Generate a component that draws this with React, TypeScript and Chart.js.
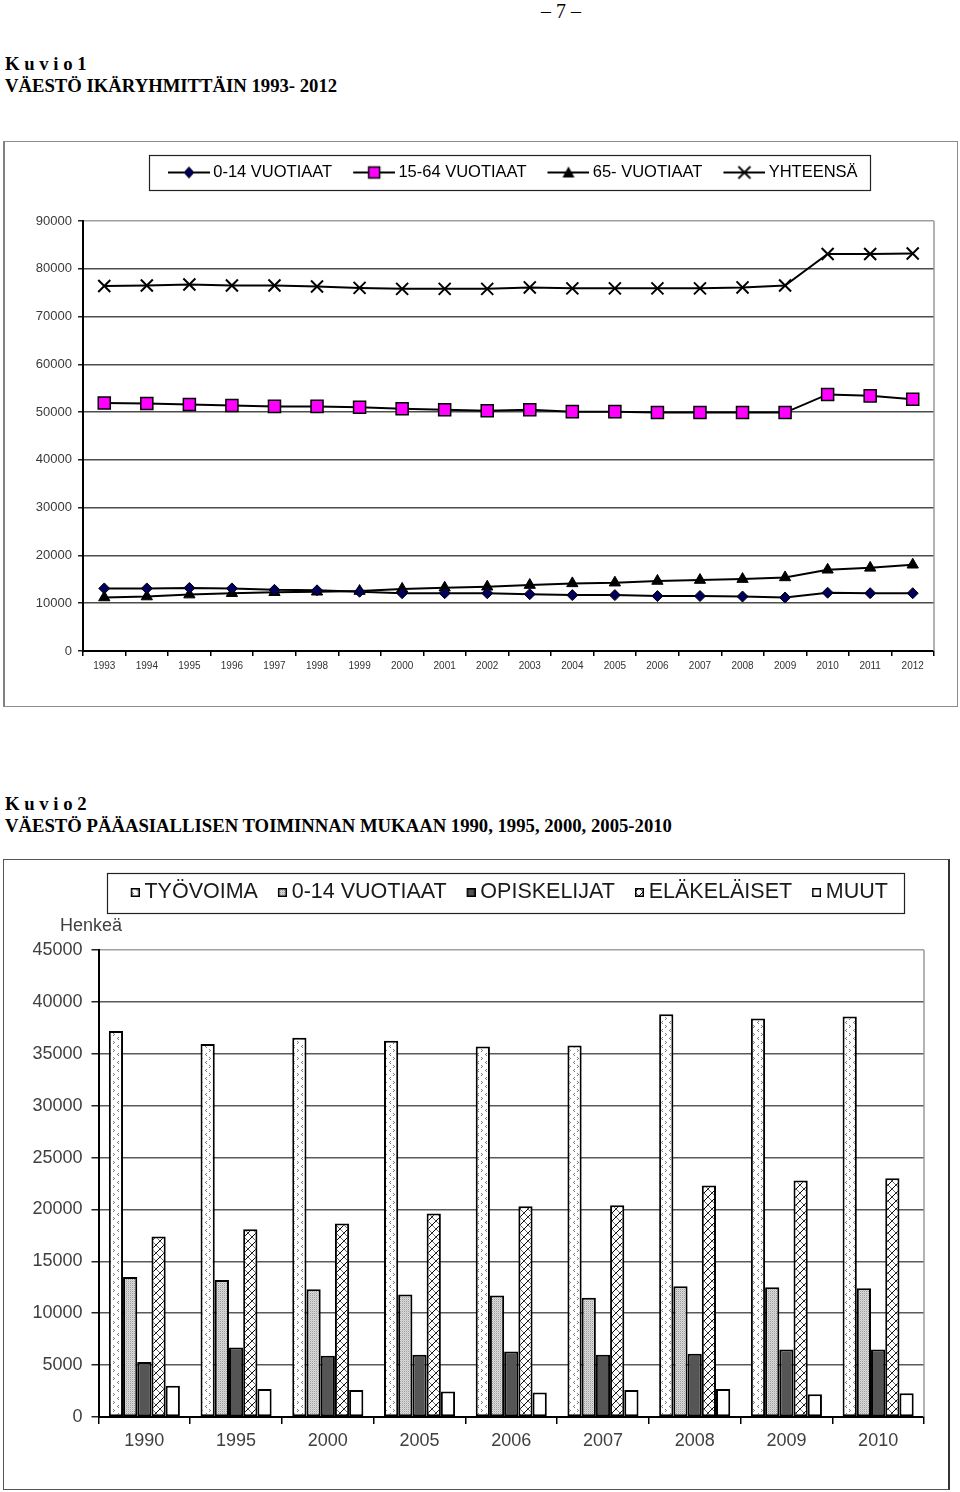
import React, { useEffect, useRef } from 'react';
import Chart from 'chart.js/auto';

const SANS = "'Liberation Sans', Arial, sans-serif";
const SERIF = "'Liberation Serif', 'Times New Roman', serif";

// ---------- Kuvio 1 data ----------
const years1 = ['1993', '1994', '1995', '1996', '1997', '1998', '1999', '2000', '2001', '2002', '2003', '2004', '2005', '2006', '2007', '2008', '2009', '2010', '2011', '2012'];
const age0to14 = [13100, 13100, 13200, 13100, 12800, 12700, 12400, 12100, 12100, 12100, 11900, 11700, 11700, 11500, 11500, 11400, 11200, 12200, 12100, 12100];
const age15to64 = [51900, 51800, 51600, 51400, 51200, 51200, 51000, 50700, 50500, 50300, 50500, 50100, 50100, 49900, 49900, 49900, 49900, 53700, 53400, 52700];
const age65plus = [11200, 11400, 11800, 12100, 12300, 12400, 12550, 13000, 13250, 13450, 13800, 14150, 14300, 14650, 14850, 15050, 15400, 17000, 17400, 18050];
const totalPop = [76400, 76500, 76700, 76500, 76500, 76300, 76000, 75800, 75800, 75800, 76100, 75900, 75900, 75900, 75900, 76100, 76500, 83100, 83100, 83200];
const yTicks1 = [0, 10000, 20000, 30000, 40000, 50000, 60000, 70000, 80000, 90000];
const series1 = ['0-14 VUOTIAAT', '15-64 VUOTIAAT', '65- VUOTIAAT', 'YHTEENSÄ'];

// ---------- Kuvio 2 data ----------
const years2 = ['1990', '1995', '2000', '2005', '2006', '2007', '2008', '2009', '2010'];
const workforce = [37200, 35950, 36550, 36250, 35700, 35800, 38800, 38400, 38600];
const children = [13500, 13200, 12300, 11800, 11700, 11500, 12600, 12500, 12400];
const students = [5300, 6700, 5900, 6000, 6300, 6000, 6100, 6500, 6500];
const pensioners = [17400, 18100, 18650, 19600, 20300, 20400, 22300, 22800, 23000];
const others = [3000, 2700, 2600, 2450, 2350, 2600, 2700, 2200, 2300];
const yTicks2 = [0, 5000, 10000, 15000, 20000, 25000, 30000, 35000, 40000, 45000];
const series2 = ['TYÖVOIMA', '0-14 VUOTIAAT', 'OPISKELIJAT', 'ELÄKELÄISET', 'MUUT'];

// ---------- helpers ----------
function tile(kind: string): HTMLCanvasElement {
  const c = document.createElement('canvas');
  const g = c.getContext('2d')!;
  if (kind === 'work') {
    c.width = 8; c.height = 8;
    g.fillStyle = '#fff'; g.fillRect(0, 0, 8, 8);
    g.fillStyle = '#7a7a7a';
    g.fillRect(2, 0, 1, 1); g.fillRect(1, 1, 1, 1); g.fillRect(2, 2, 1, 1);
    g.fillRect(5, 4, 1, 1); g.fillRect(6, 5, 1, 1); g.fillRect(5, 6, 1, 1);
  } else if (kind === 'kids') {
    c.width = 2; c.height = 2;
    g.fillStyle = '#dcdcdc'; g.fillRect(0, 0, 2, 2);
    g.fillStyle = '#9c9c9c'; g.fillRect(0, 0, 1, 1);
    g.fillStyle = '#c4c4c4'; g.fillRect(1, 1, 1, 1);
  } else if (kind === 'students') {
    c.width = 2; c.height = 2;
    g.fillStyle = '#555'; g.fillRect(0, 0, 2, 2);
  } else if (kind === 'pens') {
    c.width = 8; c.height = 8;
    g.fillStyle = '#fff'; g.fillRect(0, 0, 8, 8);
    g.strokeStyle = '#000'; g.lineWidth = 1;
    g.beginPath();
    g.moveTo(0, 8); g.lineTo(8, 0);
    g.moveTo(-1, 1); g.lineTo(1, -1);
    g.moveTo(7, 9); g.lineTo(9, 7);
    g.stroke();
    g.strokeStyle = '#444'; g.lineWidth = 0.8;
    g.beginPath();
    g.moveTo(0, 0); g.lineTo(8, 8);
    g.moveTo(-1, 7); g.lineTo(1, 9);
    g.moveTo(7, -1); g.lineTo(9, 1);
    g.stroke();
  } else {
    c.width = 2; c.height = 2;
    g.fillStyle = '#fff'; g.fillRect(0, 0, 2, 2);
  }
  return c;
}

function pattern(kind: string): CanvasPattern {
  const g = document.createElement('canvas').getContext('2d')!;
  return g.createPattern(tile(kind), 'repeat')!;
}

function lineIcon(kind: string): HTMLCanvasElement {
  const c = document.createElement('canvas');
  c.width = 58; c.height = 18;
  const g = c.getContext('2d')!;
  g.strokeStyle = '#000'; g.lineWidth = 2;
  g.beginPath(); g.moveTo(16, 9); g.lineTo(58, 9); g.stroke();
  const x = 37, y = 9;
  g.lineWidth = 1;
  if (kind === 'diamond') {
    g.beginPath(); g.moveTo(x, y - 5.5); g.lineTo(x + 5, y); g.lineTo(x, y + 5.5); g.lineTo(x - 5, y); g.closePath();
    g.fillStyle = '#00005c'; g.fill(); g.stroke();
  } else if (kind === 'square') {
    g.fillStyle = '#ff00ff'; g.lineWidth = 1.5;
    g.fillRect(x - 5.5, y - 5.5, 11, 11); g.strokeRect(x - 5.5, y - 5.5, 11, 11);
  } else if (kind === 'triangle') {
    g.beginPath(); g.moveTo(x, y - 6); g.lineTo(x + 6, y + 5); g.lineTo(x - 6, y + 5); g.closePath();
    g.fillStyle = '#000'; g.fill();
  } else {
    g.lineWidth = 1.8;
    g.beginPath(); g.moveTo(x - 6, y - 6); g.lineTo(x + 6, y + 6); g.moveTo(x + 6, y - 6); g.lineTo(x - 6, y + 6); g.stroke();
  }
  return c;
}

function boxIcon(kind: string): HTMLCanvasElement {
  const c = document.createElement('canvas');
  c.width = 13; c.height = 9;
  const g = c.getContext('2d')!;
  g.fillStyle = g.createPattern(tile(kind), 'repeat')!;
  g.fillRect(4, 0, 9, 9);
  g.strokeStyle = '#000'; g.lineWidth = 1.5;
  g.strokeRect(4.75, 0.75, 7.5, 7.5);
  return c;
}

function legendPlacer(o: { areaTop: number; firstBoxX: number; textCenterY: number; itemHeight: number; padL: number; padR: number; halfH: number }) {
  return {
    id: 'legendPlacer',
    beforeInit(chart: any) {
      const lg = chart.legend;
      if (!lg) return;
      const orig = lg.fit.bind(lg);
      lg.fit = function () { orig(); this.height = o.areaTop; };
    },
    afterLayout(chart: any) {
      const lg = chart.legend;
      if (!lg || !lg.lineWidths) return;
      const pad = lg.options.labels.padding;
      const curX = (lg.left + pad + lg.right - lg.lineWidths[0]) / 2;
      const dx = o.firstBoxX - curX;
      lg.left += dx; lg.right += dx;
      const curY = lg.top + pad + o.itemHeight / 2;
      const dy = o.textCenterY - curY;
      lg.top += dy; lg.bottom += dy;
    },
    afterDraw(chart: any) {
      const lg = chart.legend;
      const hb = lg && lg.legendHitBoxes;
      if (!hb || !hb.length) return;
      const last = hb[hb.length - 1];
      const l = hb[0].left - o.padL;
      const r = last.left + last.width + o.padR;
      const ctx = chart.ctx;
      ctx.save();
      ctx.strokeStyle = '#222'; ctx.lineWidth = 1.2;
      ctx.strokeRect(Math.round(l) + 0.5, Math.round(o.textCenterY - o.halfH) + 0.5, Math.round(r - l), Math.round(2 * o.halfH));
      ctx.restore();
    },
  };
}

const rightFrame = {
  id: 'rightFrame',
  afterDraw(chart: any) {
    const { ctx, chartArea: a } = chart;
    ctx.save();
    ctx.strokeStyle = '#9a9a9a'; ctx.lineWidth = 1.5;
    ctx.beginPath(); ctx.moveTo(a.right, a.top); ctx.lineTo(a.right, a.bottom); ctx.stroke();
    ctx.restore();
  },
};

function config1(): any {
  const icons = [lineIcon('diamond'), lineIcon('square'), lineIcon('triangle'), lineIcon('cross')];
  const common = { borderColor: '#000', borderWidth: 2, pointBorderColor: '#000', tension: 0 };
  return {
    type: 'line',
    data: {
      labels: years1,
      datasets: [
        { ...common, label: series1[0], data: age0to14, pointStyle: 'rectRot', pointRadius: 5.5, pointBackgroundColor: '#00005c', pointBorderWidth: 1 },
        { ...common, label: series1[1], data: age15to64, pointStyle: 'rect', pointRadius: 8.5, pointBackgroundColor: '#ff00ff', pointBorderWidth: 1.5 },
        { ...common, label: series1[2], data: age65plus, pointStyle: 'triangle', pointRadius: 6.5, pointBackgroundColor: '#000', pointBorderWidth: 1 },
        { ...common, label: series1[3], data: totalPop, pointStyle: 'crossRot', pointRadius: 8.5, pointBackgroundColor: '#000', pointBorderWidth: 2 },
      ],
    },
    options: {
      responsive: false,
      animation: false,
      events: [],
      devicePixelRatio: 1,
      layout: { padding: { left: 0, right: 23, top: 0, bottom: 0 } },
      plugins: {
        tooltip: { enabled: false },
        legend: {
          position: 'top',
          labels: {
            usePointStyle: true,
            pointStyleWidth: 48,
            boxHeight: 16,
            padding: 10,
            color: '#000',
            font: { family: SANS, size: 16.5 },
            generateLabels: (chart: any) => {
              const items = (Chart as any).defaults.plugins.legend.labels.generateLabels(chart);
              return items.map((it: any, i: number) => ({ ...it, pointStyle: icons[i], rotation: 0 }));
            },
          },
        },
      },
      scales: {
        x: {
          offset: true,
          grid: { offset: true, drawOnChartArea: false, drawTicks: true, tickLength: 5, color: '#000', lineWidth: 1.5 },
          border: { color: '#000', width: 2 },
          ticks: { font: { family: SANS, size: 10 }, color: '#333', padding: 4, maxRotation: 0, autoSkip: false },
          afterFit: (s: any) => { s.height = 55; },
        },
        y: {
          min: 0,
          max: 90000,
          afterBuildTicks: (s: any) => { s.ticks = yTicks1.map((v) => ({ value: v })); },
          ticks: { font: { family: SANS, size: 13 }, color: '#3a3a3a', padding: 6, callback: (v: any) => String(v) },
          grid: {
            color: (c: any) => (c.tick && c.tick.value === 90000 ? '#a0a0a0' : '#4d4d4d'),
            lineWidth: 1.5, tickLength: 5, tickColor: '#222',
          },
          border: { color: '#000', width: 2 },
          afterFit: (s: any) => { s.width = 79; },
        },
      },
    },
    plugins: [legendPlacer({ areaTop: 79, firstBoxX: 153, textCenterY: 30.5, itemHeight: 16.5, padL: 8, padR: 12, halfH: 17.5 }), rightFrame],
  };
}

function config2(): any {
  const kinds = ['work', 'kids', 'students', 'pens', 'other'];
  const icons = kinds.map(boxIcon);
  const values = [workforce, children, students, pensioners, others];
  return {
    type: 'bar',
    data: {
      labels: years2,
      datasets: values.map((d, i) => ({
        label: series2[i],
        data: d,
        backgroundColor: pattern(kinds[i]),
        borderColor: '#000',
        borderWidth: 2,
        borderSkipped: false,
        categoryPercentage: 0.775,
        barPercentage: 1,
      })),
    },
    options: {
      responsive: false,
      animation: false,
      events: [],
      devicePixelRatio: 1,
      layout: { padding: { left: 0, right: 23, top: 0, bottom: 0 } },
      plugins: {
        tooltip: { enabled: false },
        legend: {
          position: 'top',
          labels: {
            usePointStyle: true,
            pointStyleWidth: 1,
            boxHeight: 9,
            padding: 22,
            color: '#1a1a1a',
            font: { family: SANS, size: 21.5 },
            generateLabels: (chart: any) => {
              const items = (Chart as any).defaults.plugins.legend.labels.generateLabels(chart);
              return items.map((it: any, i: number) => ({ ...it, pointStyle: icons[i], rotation: 0 }));
            },
          },
        },
      },
      scales: {
        x: {
          offset: true,
          grid: { offset: true, drawOnChartArea: false, drawTicks: true, tickLength: 7, color: '#000', lineWidth: 1.5 },
          border: { color: '#000', width: 2 },
          ticks: { font: { family: SANS, size: 18 }, color: '#404040', padding: 6, maxRotation: 0, autoSkip: false },
          afterFit: (s: any) => { s.height = 72; },
        },
        y: {
          min: 0,
          max: 45000,
          afterBuildTicks: (s: any) => { s.ticks = yTicks2.map((v) => ({ value: v })); },
          ticks: { font: { family: SANS, size: 18 }, color: '#404040', padding: 9, callback: (v: any) => String(v) },
          grid: {
            color: (c: any) => (c.tick && c.tick.value === 45000 ? '#a0a0a0' : '#5a5a5a'),
            lineWidth: 1.5, tickLength: 7, tickColor: '#222',
          },
          border: { color: '#000', width: 2 },
          afterFit: (s: any) => { s.width = 94.5; },
        },
      },
    },
    plugins: [legendPlacer({ areaTop: 89, firstBoxX: 128.7, textCenterY: 31.5, itemHeight: 21.5, padL: 26, padR: 16, halfH: 20 }), rightFrame],
  };
}

const abs = (s: React.CSSProperties): React.CSSProperties => ({ position: 'absolute', margin: 0, whiteSpace: 'nowrap', ...s });

export default function App() {
  const ref1 = useRef<HTMLCanvasElement>(null);
  const ref2 = useRef<HTMLCanvasElement>(null);

  useEffect(() => {
    const c1 = new Chart(ref1.current!, config1());
    const c2 = new Chart(ref2.current!, config2());
    return () => { c1.destroy(); c2.destroy(); };
  }, []);

  const capStyle: React.CSSProperties = { fontFamily: SERIF, fontWeight: 'bold', fontSize: 18.7, lineHeight: '22px', color: '#000', left: 5 };

  return (
    <div style={{ position: 'absolute', left: 0, top: 0, width: 960, height: 1492, background: '#fff', overflow: 'hidden' }}>
      <div style={abs({ left: 530, top: 0, width: 62, textAlign: 'center', fontFamily: SERIF, fontSize: 20, lineHeight: '22px' })}>– 7 –</div>

      <div style={abs({ ...capStyle, top: 53 })}>K u v i o 1</div>
      <div style={abs({ ...capStyle, top: 75 })}>VÄESTÖ IKÄRYHMITTÄIN 1993- 2012</div>

      <div style={abs({ left: 3, top: 141, width: 955, height: 566, boxSizing: 'border-box', border: '1px solid #8c8c8c', borderLeft: '2px solid #808080' })} />
      <canvas ref={ref1} width={953} height={564} style={abs({ left: 4, top: 142, width: 953, height: 564 })} />

      <div style={abs({ ...capStyle, top: 793 })}>K u v i o 2</div>
      <div style={abs({ ...capStyle, top: 815 })}>VÄESTÖ PÄÄASIALLISEN TOIMINNAN MUKAAN 1990, 1995, 2000, 2005-2010</div>

      <div style={abs({ left: 3, top: 859, width: 947, height: 631, boxSizing: 'border-box', border: '1px solid #555', borderRight: '2px solid #333' })} />
      <canvas ref={ref2} width={943} height={628} style={abs({ left: 4, top: 861, width: 943, height: 628 })} />
      <div style={abs({ left: 60, top: 914, fontFamily: SANS, fontSize: 18, lineHeight: '22px', color: '#404040' })}>Henkeä</div>
    </div>
  );
}
